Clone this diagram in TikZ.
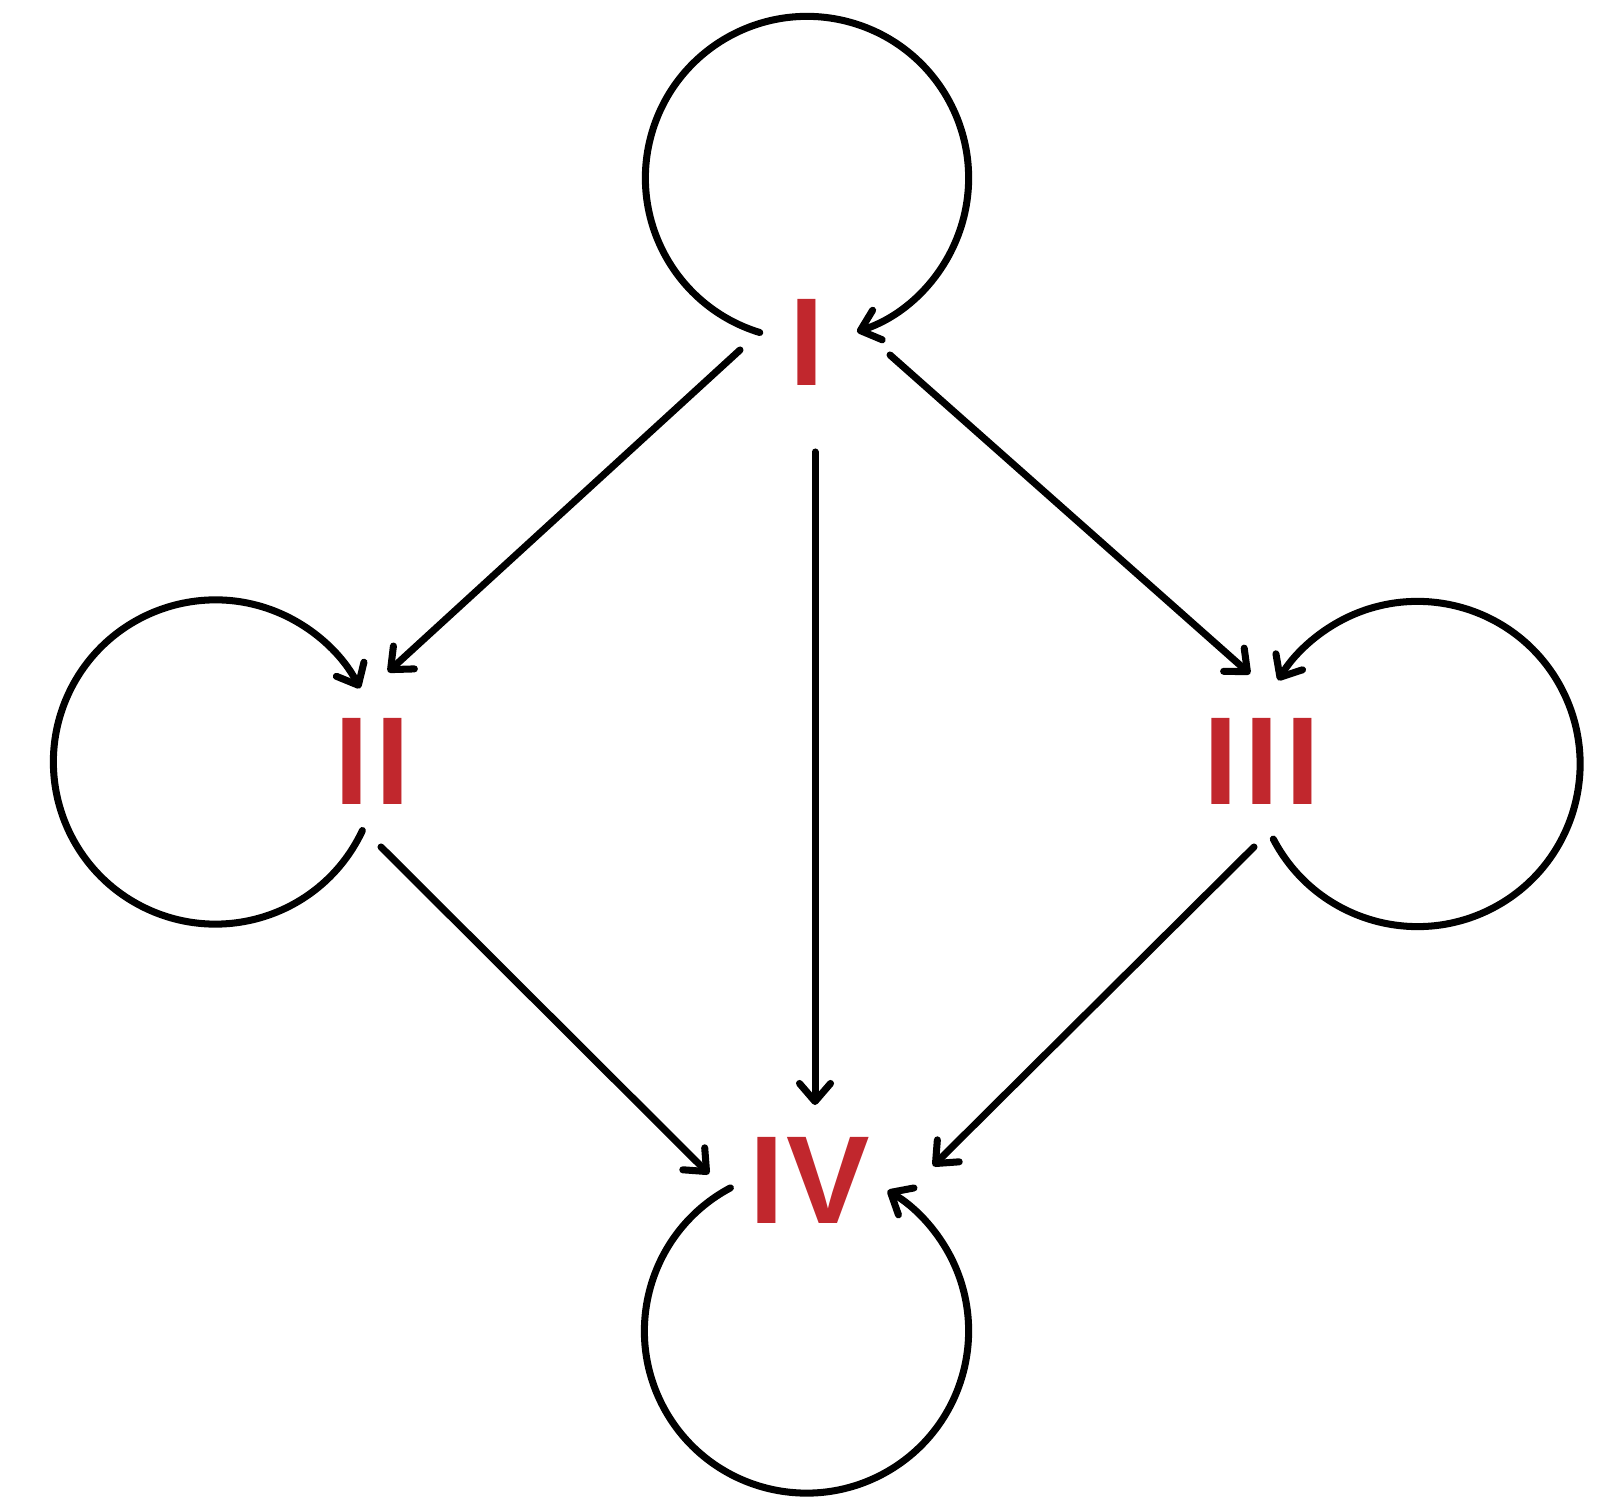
\documentclass[tikz,border=0pt]{standalone}
\usepackage{fontspec}
\usetikzlibrary{arrows.meta,calc}
\newfontfamily\stagefont[LetterSpace=5]{Liberation Sans}
\definecolor{stagered}{HTML}{C1272D}
\tikzset{
  stage/.style={text=stagered,font={\stagefont\bfseries\fontsize{35.6pt}{36pt}\selectfont},inner sep=0pt},
  flow/.style={-{Straight Barb[length=1.8mm,width=3.1mm,round]},line width=2pt,line cap=round,draw=black}
}
\begin{document}
\begin{tikzpicture}[x=0.01cm,y=0.01cm]
  \useasboundingbox (0,0) rectangle (1613,1500);
  \node[stage] (I) at (807,1158) {I};
  \node[stage] (II) at (372,739) {II};
  \node[stage] (III) at (1262,739) {III};
  \node[stage] (IV) at (810,320) {I\kern0.6pt V};
  % transitions between stages
  \draw[flow] ([shift={(-67,-8)}]I.center) -- ([shift={(16,89)}]II.center);
  \draw[flow] ([shift={(8,-110)}]I.center) -- ([shift={(5,75)}]IV.center);
  \draw[flow] ([shift={(83,-13)}]I.center) -- ([shift={(-12,87)}]III.center);
  \draw[flow] ([shift={(9,-86)}]II.center) -- ([shift={(-101,6)}]IV.center);
  \draw[flow] ([shift={(-8,-86)}]III.center) -- ([shift={(123,14)}]IV.center);
  % self loops
  \coordinate (Iloop) at ([shift={(0,164)}]I.center);
  \coordinate (IIloop) at ([shift={(-156.5,-1)}]II.center);
  \coordinate (IIIloop) at ([shift={(155.5,-3)}]III.center);
  \coordinate (IVloop) at ([shift={(-3.5,-151)}]IV.center);
  \draw[flow] ([shift={(253:1.615cm)}]Iloop) arc[start angle=253,end angle=-72,radius=1.615cm];
  \draw[flow] ([shift={(-25:1.62cm)}]IIloop) arc[start angle=-25,end angle=-333,radius=1.62cm];
  \draw[flow] ([shift={(207.5:1.625cm)}]IIIloop) arc[start angle=207.5,end angle=509,radius=1.625cm];
  \draw[flow] ([shift={(118:1.62cm)}]IVloop) arc[start angle=118,end angle=420,radius=1.62cm];
\end{tikzpicture}
\end{document}
